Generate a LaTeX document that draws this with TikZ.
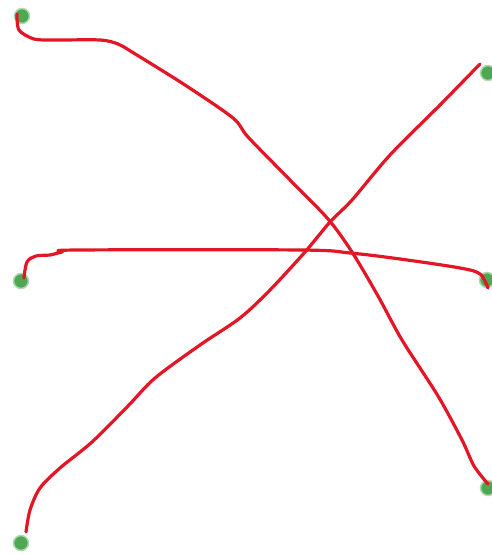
\documentclass[tikz,border=0pt]{standalone}
\usetikzlibrary{calc}
\definecolor{dotgreen}{RGB}{78,168,82}
\definecolor{wire}{RGB}{228,22,38}
\tikzset{
  dot/.style={circle,fill=dotgreen,inner sep=0pt,minimum size=15pt,draw=dotgreen!45,line width=1.5pt},
  wirepath/.style={draw=wire,line width=3.2pt,line cap=round,line join=round}
}
\begin{document}
\begin{tikzpicture}[x=1pt,y=-1pt]
\useasboundingbox[fill=white] (0,0) rectangle (491,556);
\node[dot] (tl) at (22,16) {};
\node[dot] (tr) at (488,73) {};
\node[dot] (ml) at (21,281) {};
\node[dot] (mr) at (487,280) {};
\node[dot] (br) at (488,488) {};
\node[dot] (bl) at (21,543) {};
\coordinate (tlend) at (17,14);
\coordinate (brend) at (488,484);
\coordinate (trend) at (480,64);
\coordinate (blend) at (26,532);
\coordinate (mlend) at (24,278);
\coordinate (mrend) at (488,288);
\draw[wirepath] plot[smooth,tension=0.5] coordinates {(tlend) (19,30) (34,39) (55,40) (100,40) (118,44) (132,52) (185,85) (233,118) (248,137) (290,180) (328,219) (352,252) (378,296) (402,340) (438,396) (462,440) (474,466) (brend)};
\draw[wirepath] plot[smooth,tension=0.5] coordinates {(trend) (440,105) (390,155) (352,200) (330,222) (305,252) (270,290) (240,318) (200,345) (155,378) (128,406) (92,442) (60,468) (40,488) (30,510) (blend)};
\draw[wirepath] plot[smooth,tension=0.55] coordinates {(mlend) (27,262) (36,256) (50,255) (62,252) (78,250) (300,250) (350,253) (400,259) (460,268) (480,274) (mrend)};
\end{tikzpicture}
\end{document}
